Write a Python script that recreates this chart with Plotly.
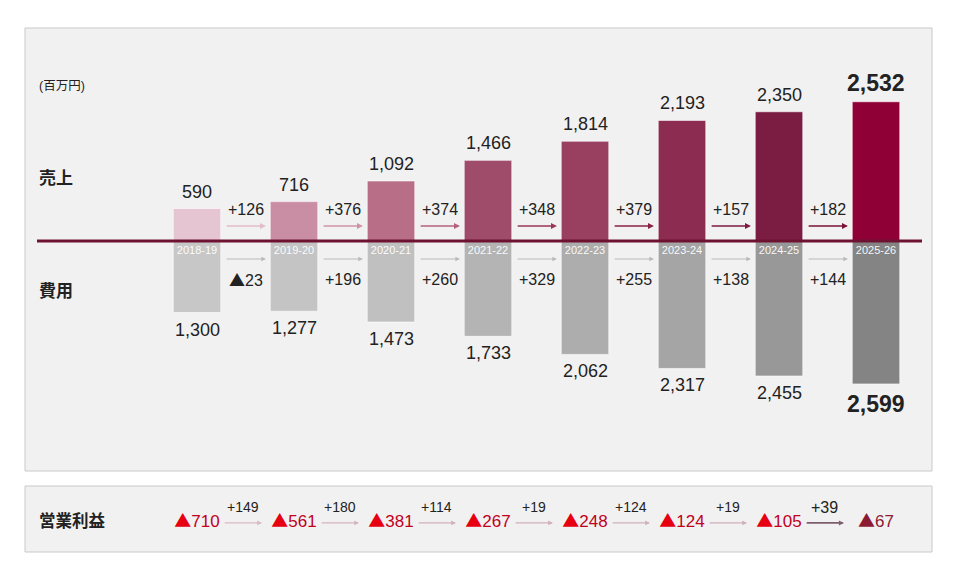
import plotly.graph_objects as go

# data (百万円)
years = ["2018-19", "2019-20", "2020-21", "2021-22", "2022-23", "2023-24", "2024-25", "2025-26"]
sales = [590, 716, 1092, 1466, 1814, 2193, 2350, 2532]
costs = [1300, 1277, 1473, 1733, 2062, 2317, 2455, 2599]
op_income = [-710, -561, -381, -267, -248, -124, -105, -67]
sales_delta = ["+126", "+376", "+374", "+348", "+379", "+157", "+182"]
cost_delta = ["▲23", "+196", "+260", "+329", "+255", "+138", "+144"]
op_delta = ["+149", "+180", "+114", "+19", "+124", "+19", "+39"]

sales_colors = ["#e5c5d2", "#c98ea4", "#b96e88", "#9e4c69", "#993f60", "#8b2c50", "#7b1d42", "#8e0036"]
cost_colors = ["#c7c7c7", "#c4c4c4", "#c0c0c0", "#b4b4b4", "#adadad", "#a5a5a5", "#989898", "#848484"]
sales_arrow = ["#e2bccb", "#cf93a8", "#b5607c", "#9a3658", "#8a2248", "#7d1a40", "#7a1238"]
op_arrow = ["#d9b9c2", "#d5b3bd", "#d2b0bb", "#d0b0bb", "#cfb0bc", "#cdb0bc", "#7e5e6c"]

# page has an 8px body margin, so the figure is drawn 8px smaller and coords shifted
OFF = 8
W, H = 957 - OFF, 583 - OFF
scale = 0.055  # px per unit
zero_px = 241
dom_top, dom_bot = 60, 460
y_top = (zero_px - dom_top) / scale
y_bot = -(dom_bot - zero_px) / scale


def px_x(p):
    return (p - OFF) / W


def px_y(p):
    return 1 - (p - OFF) / H


FONT = "Arial, Liberation Sans, Noto Sans CJK JP, sans-serif"
TRI = "<span style='font-family:Noto Sans CJK JP'>▲</span>"
xs = list(range(len(years)))
last = len(years) - 1

fig = go.Figure()

fig.add_trace(go.Bar(
    x=xs, y=sales, width=0.49,
    marker=dict(color=sales_colors, line=dict(color="rgba(255,255,255,0.6)", width=1)),
    hoverinfo="skip",
))
fig.add_trace(go.Bar(
    x=xs, y=[-c for c in costs], width=0.49,
    marker=dict(color=cost_colors, line=dict(color="rgba(255,255,255,0.6)", width=1)),
    hoverinfo="skip",
))
# year labels inside the cost bars
fig.add_trace(go.Scatter(
    x=xs, y=[-10 / scale] * len(years), mode="text", text=years,
    textfont=dict(size=11, color="rgba(255,255,255,0.95)", family=FONT),
    hoverinfo="skip", cliponaxis=False,
))

# operating income row
fig.add_trace(go.Scatter(
    x=xs, y=[0.45] * len(op_income), mode="text", xaxis="x2", yaxis="y2",
    text=[f"<span style='color:#e60012;font-family:Noto Sans CJK JP'>▲</span>{abs(v)}" if i < last
          else f"<span style='color:#8b1a32'><span style='font-family:Noto Sans CJK JP'>▲</span>{abs(v)}</span>"
          for i, v in enumerate(op_income)],
    textfont=dict(size=17, color="#c0001c", family=FONT),
    hoverinfo="skip", cliponaxis=False,
))

ann = []
# value labels above / below the bars
for i in xs:
    big = i == last
    ann.append(dict(x=i, y=sales[i], xref="x", yref="y", yanchor="middle", yshift=19 if big else 17,
                    text=f"<b>{sales[i]:,}</b>" if big else f"{sales[i]:,}", showarrow=False,
                    font=dict(size=23 if big else 18, color="#222")))
    ann.append(dict(x=i, y=-costs[i], xref="x", yref="y", yanchor="middle", yshift=-20 if big else -17,
                    text=f"<b>{costs[i]:,}</b>" if big else f"{costs[i]:,}", showarrow=False,
                    font=dict(size=23 if big else 18, color="#222")))

for i in range(len(years) - 1):
    mid = i + 0.5
    ann.append(dict(x=mid, y=(zero_px - 209) / scale, xref="x", yref="y", text=sales_delta[i],
                    showarrow=False, font=dict(size=16, color="#222")))
    ann.append(dict(x=mid + 0.21, y=(zero_px - 226) / scale, ax=mid - 0.21, ay=(zero_px - 226) / scale,
                    xref="x", yref="y", axref="x", ayref="y", text="", showarrow=True,
                    arrowhead=2, arrowsize=0.9, arrowwidth=1.3, arrowcolor=sales_arrow[i]))
    ann.append(dict(x=mid, y=(zero_px - 279) / scale, xref="x", yref="y",
                    text=cost_delta[i].replace("▲", TRI),
                    showarrow=False, font=dict(size=16, color="#222")))
    ann.append(dict(x=mid + 0.21, y=(zero_px - 259) / scale, ax=mid - 0.21, ay=(zero_px - 259) / scale,
                    xref="x", yref="y", axref="x", ayref="y", text="", showarrow=True,
                    arrowhead=2, arrowsize=0.9, arrowwidth=1, arrowcolor="#b9b9b9"))
    ann.append(dict(x=mid - 0.03, y=0.68, xref="x2", yref="y2", text=op_delta[i],
                    showarrow=False, font=dict(size=14 if i < 6 else 16, color="#222")))
    ann.append(dict(x=mid + 0.17, y=0.44, ax=mid - 0.23, ay=0.44,
                    xref="x2", yref="y2", axref="x2", ayref="y2", text="", showarrow=True,
                    arrowhead=2, arrowsize=0.8 if i < 6 else 0.6, arrowwidth=1.2 if i < 6 else 1.7,
                    arrowcolor=op_arrow[i]))

row_labels = [("(百万円)", 86, 12.5, False), ("売上", 178, 17, True),
              ("費用", 292, 17, True), ("営業利益", 521, 16.5, True)]
for txt, ypx, size, bold in row_labels:
    ann.append(dict(x=px_x(37), y=px_y(ypx), xref="paper", yref="paper",
                    xanchor="left", yanchor="middle",
                    text=f"<b>{txt}</b>" if bold else txt,
                    showarrow=False, font=dict(size=size, color="#222")))

shapes = [
    dict(type="rect", xref="paper", yref="paper", x0=px_x(25), x1=px_x(932), y0=px_y(471), y1=px_y(28),
         fillcolor="#f2f1f1", line=dict(color="#c9c9c9", width=1), layer="below"),
    dict(type="rect", xref="paper", yref="paper", x0=px_x(25), x1=px_x(932), y0=px_y(552), y1=px_y(486),
         fillcolor="#f2f1f1", line=dict(color="#c9c9c9", width=1), layer="below"),
    dict(type="line", xref="paper", yref="y", x0=px_x(37), x1=px_x(922), y0=0, y1=0,
         line=dict(color="#6e1232", width=3)),
]

x_dom = [px_x(148.5), px_x(924.5)]
fig.update_layout(
    width=W, height=H, margin=dict(l=0, r=0, t=0, b=0),
    paper_bgcolor="white", plot_bgcolor="rgba(0,0,0,0)",
    font=dict(family=FONT, color="#222"),
    barmode="overlay", showlegend=False,
    xaxis=dict(domain=x_dom, range=[-0.5, 7.5], visible=False),
    yaxis=dict(domain=[px_y(dom_bot), px_y(dom_top)], range=[y_bot, y_top], visible=False),
    xaxis2=dict(domain=x_dom, range=[-0.5, 7.5], visible=False, anchor="y2"),
    yaxis2=dict(domain=[px_y(552), px_y(486)], range=[0, 1], visible=False, anchor="x2"),
    annotations=ann, shapes=shapes,
)

fig.write_html("out.html")
